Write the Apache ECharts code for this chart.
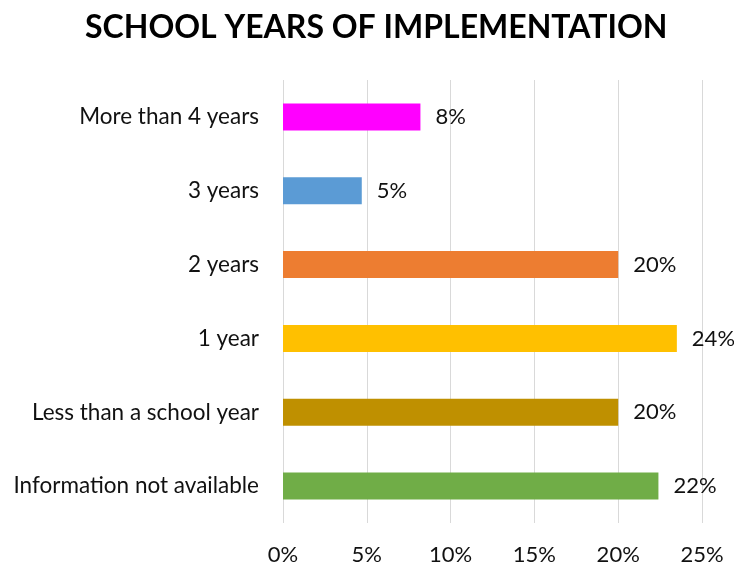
<!DOCTYPE html>
<html>
<head>
<meta charset="utf-8">
<script src="https://cdn.jsdelivr.net/npm/echarts@6/dist/echarts.min.js"></script>
<style>
  html, body { margin: 0; padding: 0; background: #fff; }
  #chart { width: 734px; height: 566px; }
</style>
</head>
<body>
<div id="chart"></div>
<script>
// Categories listed top to bottom
const categories = [
  'More than 4 years',
  '3 years',
  '2 years',
  '1 year',
  'Less than a school year',
  'Information not available'
];
// Share of schools, in percent
const shares = [8.2, 4.7, 20.0, 23.5, 20.0, 22.4];
const barColors = ['#FF00FF', '#5B9BD5', '#ED7D31', '#FFC000', '#BF9000', '#70AD47'];
const axisTicks = [0, 5, 10, 15, 20, 25];

const FONT = 'Lato, "Open Sans", sans-serif';

const chart = echarts.init(document.getElementById('chart'), null, { renderer: 'canvas' });
chart.setOption({
  backgroundColor: '#ffffff',
  animation: false,
  title: {
    text: 'SCHOOL YEARS OF IMPLEMENTATION',
    left: 80,
    top: 7,
    textStyle: { fontFamily: FONT, fontWeight: 'bold', fontSize: 32, color: '#000' }
  },
  grid: { left: 283, right: 32, top: 80, bottom: 42, containLabel: false },
  xAxis: {
    type: 'value',
    min: axisTicks[0],
    max: axisTicks[axisTicks.length - 1],
    interval: axisTicks[1] - axisTicks[0],
    axisLine: { show: false },
    axisTick: { show: false },
    axisLabel: {
      margin: 21,
      fontFamily: FONT,
      fontSize: 22,
      color: '#111',
      formatter: v => v + '%'
    },
    splitLine: { show: true, lineStyle: { color: '#d9d9d9', width: 1 } }
  },
  yAxis: {
    type: 'category',
    inverse: true,
    data: categories,
    axisLine: { show: false },
    axisTick: { show: false },
    axisLabel: { margin: 24, fontFamily: FONT, fontSize: 22.5, color: '#111' }
  },
  series: [{
    type: 'bar',
    barWidth: 27,
    data: shares.map((v, i) => ({ value: v, itemStyle: { color: barColors[i] } })),
    label: {
      show: true,
      position: 'right',
      distance: 15,
      fontFamily: FONT,
      fontSize: 22,
      color: '#111',
      formatter: p => Math.round(p.value) + '%'
    }
  }]
});
</script>
</body>
</html>
